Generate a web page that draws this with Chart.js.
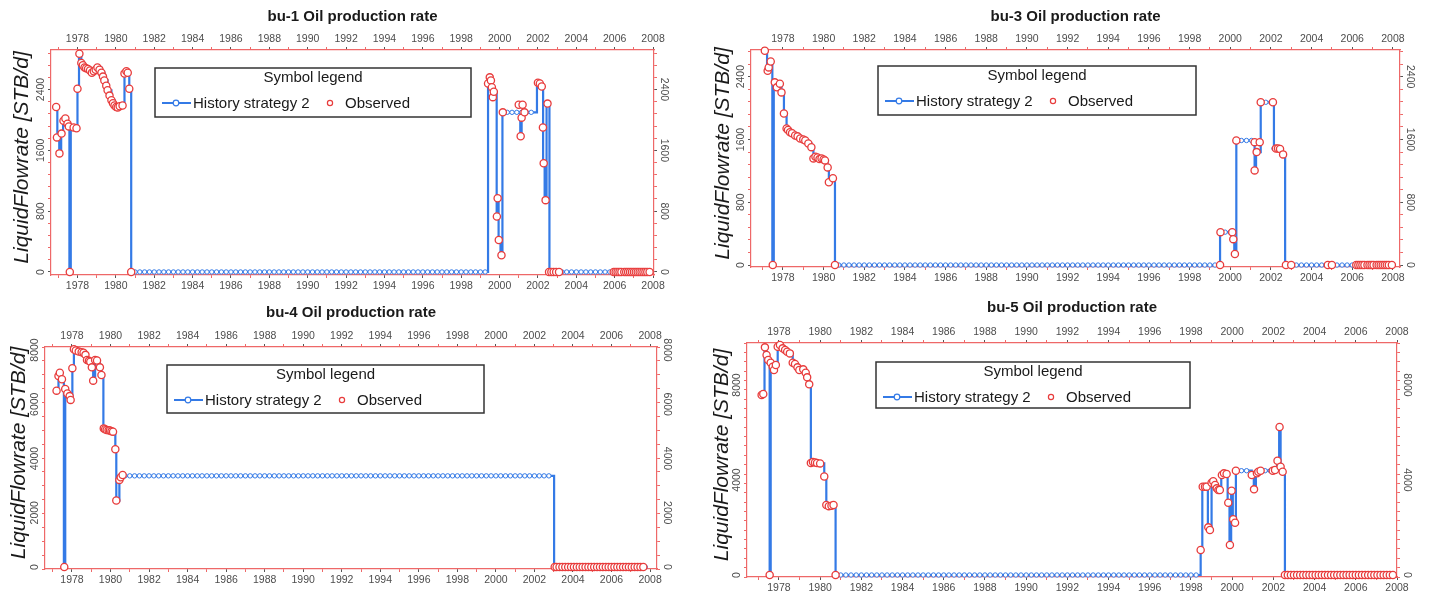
<!DOCTYPE html>
<html>
<head>
<meta charset="utf-8">
<title>Oil production rate</title>
<script src="https://cdn.jsdelivr.net/npm/chart.js@4.4.1/dist/chart.umd.min.js"></script>
<style>
  html, body { margin: 0; padding: 0; background: #fff; }
  body { width: 1432px; height: 600px; position: relative; overflow: hidden; }
  canvas { position: absolute; }
</style>
</head>
<body>
<canvas id="bu1" width="700" height="297" style="left:0;top:0"></canvas>
<canvas id="bu3" width="732" height="297" style="left:700px;top:0"></canvas>
<canvas id="bu4" width="700" height="303" style="left:0;top:297px"></canvas>
<canvas id="bu5" width="732" height="303" style="left:700px;top:297px"></canvas>
<script>
// year labels on the time axes, rate labels on the value axes
const yearLabels = [1978, 1980, 1982, 1984, 1986, 1988, 1990, 1992, 1994, 1996, 1998, 2000, 2002, 2004, 2006, 2008];
const bu1RateTicks = [0, 800, 1600, 2400];
const bu3RateTicks = [0, 800, 1600, 2400];
const bu4RateTicks = [0, 2000, 4000, 6000, 8000];
const bu5RateTicks = [0, 4000, 8000];

// [decimal year, STB/d]
const bu1History = [
  [1976.88, 2170], [1976.95, 1770], [1977.05, 1560], [1977.15, 1820], [1977.25, 1990], [1977.38, 2020],
  [1977.5, 1950], [1977.58, 0], [1977.65, 1915], [1977.8, 1900], [1977.95, 1890], [1978.0, 2410],
  [1978.08, 2870], [1978.2, 2750], [1978.35, 2690], [1978.5, 2675], [1978.7, 2620], [1978.9, 2650],
  [1979.05, 2690], [1979.25, 2620], [1979.4, 2520], [1979.57, 2390], [1979.77, 2260], [1979.93, 2190],
  [1980.1, 2165], [1980.35, 2190], [1980.45, 2610], [1980.6, 2625], [1980.7, 2410], [1980.8, 0],
  [1981, 0], [1981.25, 0], [1981.5, 0], [1981.75, 0], [1982, 0], [1982.25, 0], [1982.5, 0], [1982.75, 0],
  [1983, 0], [1983.25, 0], [1983.5, 0], [1983.75, 0], [1984, 0], [1984.25, 0], [1984.5, 0], [1984.75, 0],
  [1985, 0], [1985.25, 0], [1985.5, 0], [1985.75, 0], [1986, 0], [1986.25, 0], [1986.5, 0], [1986.75, 0],
  [1987, 0], [1987.25, 0], [1987.5, 0], [1987.75, 0], [1988, 0], [1988.25, 0], [1988.5, 0], [1988.75, 0],
  [1989, 0], [1989.25, 0], [1989.5, 0], [1989.75, 0], [1990, 0], [1990.25, 0], [1990.5, 0], [1990.75, 0],
  [1991, 0], [1991.25, 0], [1991.5, 0], [1991.75, 0], [1992, 0], [1992.25, 0], [1992.5, 0], [1992.75, 0],
  [1993, 0], [1993.25, 0], [1993.5, 0], [1993.75, 0], [1994, 0], [1994.25, 0], [1994.5, 0], [1994.75, 0],
  [1995, 0], [1995.25, 0], [1995.5, 0], [1995.75, 0], [1996, 0], [1996.25, 0], [1996.5, 0], [1996.75, 0],
  [1997, 0], [1997.25, 0], [1997.5, 0], [1997.75, 0], [1998, 0], [1998.25, 0], [1998.5, 0], [1998.75, 0],
  [1999, 0], [1999.25, 0],
  [1999.4, 2480], [1999.5, 2560], [1999.6, 2430], [1999.68, 2300], [1999.75, 2370], [1999.85, 730],
  [1999.9, 970], [1999.95, 420], [2000.05, 220], [2000.15, 2100], [2000.4, 2100], [2000.65, 2100],
  [2000.9, 2100], [2001.08, 1785], [2001.15, 2100], [2001.4, 2100], [2001.65, 2100], [2001.95, 2490],
  [2002.2, 2440], [2002.27, 1430], [2002.35, 945], [2002.45, 2215], [2002.6, 0],
  [2002.75, 0], [2003, 0], [2003.25, 0], [2003.5, 0], [2003.75, 0], [2004, 0], [2004.25, 0], [2004.5, 0],
  [2004.75, 0], [2005, 0], [2005.25, 0], [2005.5, 0], [2005.75, 0], [2006, 0], [2006.25, 0], [2006.5, 0],
  [2006.75, 0], [2007, 0], [2007.25, 0], [2007.5, 0], [2007.75, 0]
];
const bu1Observed = [
  [1976.89, 2170], [1976.93, 1770], [1977.06, 1560], [1977.17, 1820], [1977.27, 1990], [1977.37, 2020],
  [1977.48, 1950], [1977.55, 1915], [1977.6, 0], [1977.8, 1900], [1977.95, 1890], [1978.0, 2410],
  [1978.1, 2870], [1978.2, 2750], [1978.28, 2720], [1978.37, 2690], [1978.45, 2680], [1978.55, 2670],
  [1978.65, 2650], [1978.75, 2620], [1978.85, 2640], [1978.95, 2660], [1979.04, 2690], [1979.15, 2660],
  [1979.25, 2620], [1979.33, 2570], [1979.4, 2520], [1979.5, 2450], [1979.57, 2390], [1979.67, 2320],
  [1979.77, 2260], [1979.85, 2220], [1979.93, 2190], [1980.02, 2170], [1980.1, 2165], [1980.2, 2180],
  [1980.35, 2190], [1980.45, 2610], [1980.55, 2640], [1980.62, 2620], [1980.7, 2410], [1980.8, 0],
  [1999.4, 2480], [1999.49, 2560], [1999.55, 2520], [1999.6, 2430], [1999.65, 2300], [1999.7, 2370],
  [1999.86, 730], [1999.9, 970], [1999.96, 420], [2000.1, 220], [2000.17, 2100], [2001.0, 2200],
  [2001.1, 1785], [2001.15, 2030], [2001.2, 2200], [2001.3, 2100], [2002.0, 2490], [2002.1, 2480],
  [2002.2, 2440], [2002.26, 1900], [2002.3, 1430], [2002.4, 945], [2002.5, 2215], [2002.58, 0],
  [2002.7, 0], [2002.82, 0], [2002.95, 0], [2003.1, 0], [2005.95, 0], [2006.05, 0], [2006.15, 0],
  [2006.25, 0], [2006.35, 0], [2006.5, 0], [2006.6, 0], [2006.7, 0], [2006.8, 0], [2006.9, 0],
  [2007.0, 0], [2007.1, 0], [2007.2, 0], [2007.3, 0], [2007.4, 0], [2007.5, 0], [2007.6, 0],
  [2007.7, 0], [2007.82, 0]
];

const bu3History = [
  [1977.1, 2730], [1977.22, 2476], [1977.3, 2518], [1977.38, 2594], [1977.48, 0], [1977.55, 2328],
  [1977.7, 2264], [1977.85, 2311], [1977.93, 2200], [1978.05, 1930], [1978.18, 1740], [1978.35, 1693],
  [1978.6, 1651], [1978.85, 1612], [1979.1, 1587], [1979.25, 1549], [1979.4, 1502], [1979.5, 1360],
  [1979.7, 1371], [1979.9, 1359], [1980.07, 1333], [1980.2, 1244], [1980.26, 1054], [1980.4, 1105],
  [1980.56, 0],
  [1980.75, 0],
  [1981, 0], [1981.25, 0], [1981.5, 0], [1981.75, 0], [1982, 0], [1982.25, 0], [1982.5, 0], [1982.75, 0],
  [1983, 0], [1983.25, 0], [1983.5, 0], [1983.75, 0], [1984, 0], [1984.25, 0], [1984.5, 0], [1984.75, 0],
  [1985, 0], [1985.25, 0], [1985.5, 0], [1985.75, 0], [1986, 0], [1986.25, 0], [1986.5, 0], [1986.75, 0],
  [1987, 0], [1987.25, 0], [1987.5, 0], [1987.75, 0], [1988, 0], [1988.25, 0], [1988.5, 0], [1988.75, 0],
  [1989, 0], [1989.25, 0], [1989.5, 0], [1989.75, 0], [1990, 0], [1990.25, 0], [1990.5, 0], [1990.75, 0],
  [1991, 0], [1991.25, 0], [1991.5, 0], [1991.75, 0], [1992, 0], [1992.25, 0], [1992.5, 0], [1992.75, 0],
  [1993, 0], [1993.25, 0], [1993.5, 0], [1993.75, 0], [1994, 0], [1994.25, 0], [1994.5, 0], [1994.75, 0],
  [1995, 0], [1995.25, 0], [1995.5, 0], [1995.75, 0], [1996, 0], [1996.25, 0], [1996.5, 0], [1996.75, 0],
  [1997, 0], [1997.25, 0], [1997.5, 0], [1997.75, 0], [1998, 0], [1998.25, 0], [1998.5, 0], [1998.75, 0],
  [1999, 0], [1999.25, 0],
  [1999.5, 419], [1999.75, 419], [2000.0, 419], [2000.12, 330], [2000.2, 140], [2000.3, 1587],
  [2000.55, 1587], [2000.8, 1587], [2001.05, 1587], [2001.2, 1206], [2001.27, 1439], [2001.5, 2074],
  [2001.75, 2074], [2002.0, 2074], [2002.15, 1485], [2002.4, 1485], [2002.58, 1410], [2002.7, 0],
  [2003, 0], [2003.25, 0], [2003.5, 0], [2003.75, 0], [2004, 0], [2004.25, 0], [2004.5, 0], [2004.75, 0],
  [2005, 0], [2005.25, 0], [2005.5, 0], [2005.75, 0], [2006, 0], [2006.25, 0], [2006.5, 0], [2006.75, 0],
  [2007, 0], [2007.25, 0], [2007.5, 0], [2007.75, 0]
];
const bu3Observed = [
  [1977.11, 2730], [1977.25, 2476], [1977.3, 2518], [1977.4, 2594], [1977.5, 0], [1977.6, 2328],
  [1977.7, 2264], [1977.85, 2311], [1977.93, 2200], [1978.05, 1930], [1978.18, 1740], [1978.25, 1720],
  [1978.35, 1693], [1978.45, 1680], [1978.6, 1651], [1978.72, 1640], [1978.85, 1612], [1979.0, 1600],
  [1979.1, 1587], [1979.25, 1549], [1979.4, 1502], [1979.5, 1359], [1979.6, 1380], [1979.7, 1371],
  [1979.8, 1350], [1979.9, 1359], [1980.0, 1345], [1980.07, 1333], [1980.2, 1244], [1980.26, 1054],
  [1980.46, 1105], [1980.56, 0],
  [1999.5, 0], [1999.52, 419], [2000.1, 419], [2000.15, 330], [2000.23, 140], [2000.3, 1587],
  [2001.2, 1566], [2001.2, 1206], [2001.3, 1439], [2001.45, 1566], [2001.5, 2074], [2002.1, 2074],
  [2002.25, 1485], [2002.35, 1485], [2002.45, 1480], [2002.6, 1410], [2002.74, 0], [2003.0, 0],
  [2004.8, 0], [2005.0, 0], [2006.2, 0], [2006.3, 0], [2006.4, 0], [2006.5, 0], [2006.6, 0],
  [2006.75, 0], [2006.85, 0], [2006.95, 0], [2007.05, 0], [2007.2, 0], [2007.3, 0], [2007.4, 0],
  [2007.5, 0], [2007.6, 0], [2007.7, 0], [2007.8, 0], [2007.95, 0]
];

const bu4History = [
  [1977.2, 6500], [1977.3, 7040], [1977.37, 7163], [1977.48, 6920], [1977.58, 0], [1977.65, 6560],
  [1977.76, 6400], [1977.88, 6300], [1977.93, 6157], [1978.02, 7325], [1978.1, 8025], [1978.35, 7937],
  [1978.6, 7900], [1978.7, 7815], [1978.78, 7630], [1978.95, 7570], [1979.03, 7360], [1979.1, 6870],
  [1979.2, 7630], [1979.3, 7605], [1979.45, 7360], [1979.53, 7080], [1979.63, 5113], [1979.8, 5050],
  [1979.97, 5025], [1980.13, 4990], [1980.25, 4340], [1980.3, 2445], [1980.46, 3207], [1980.53, 3307],
  [1980.63, 3392],
  [1980.75, 3360],
  [1981, 3360], [1981.25, 3360], [1981.5, 3360], [1981.75, 3360], [1982, 3360], [1982.25, 3360], [1982.5, 3360], [1982.75, 3360],
  [1983, 3360], [1983.25, 3360], [1983.5, 3360], [1983.75, 3360], [1984, 3360], [1984.25, 3360], [1984.5, 3360], [1984.75, 3360],
  [1985, 3360], [1985.25, 3360], [1985.5, 3360], [1985.75, 3360], [1986, 3360], [1986.25, 3360], [1986.5, 3360], [1986.75, 3360],
  [1987, 3360], [1987.25, 3360], [1987.5, 3360], [1987.75, 3360], [1988, 3360], [1988.25, 3360], [1988.5, 3360], [1988.75, 3360],
  [1989, 3360], [1989.25, 3360], [1989.5, 3360], [1989.75, 3360], [1990, 3360], [1990.25, 3360], [1990.5, 3360], [1990.75, 3360],
  [1991, 3360], [1991.25, 3360], [1991.5, 3360], [1991.75, 3360], [1992, 3360], [1992.25, 3360], [1992.5, 3360], [1992.75, 3360],
  [1993, 3360], [1993.25, 3360], [1993.5, 3360], [1993.75, 3360], [1994, 3360], [1994.25, 3360], [1994.5, 3360], [1994.75, 3360],
  [1995, 3360], [1995.25, 3360], [1995.5, 3360], [1995.75, 3360], [1996, 3360], [1996.25, 3360], [1996.5, 3360], [1996.75, 3360],
  [1997, 3360], [1997.25, 3360], [1997.5, 3360], [1997.75, 3360], [1998, 3360], [1998.25, 3360], [1998.5, 3360], [1998.75, 3360],
  [1999, 3360], [1999.25, 3360], [1999.5, 3360], [1999.75, 3360], [2000, 3360], [2000.25, 3360], [2000.5, 3360], [2000.75, 3360],
  [2001, 3360], [2001.25, 3360], [2001.5, 3360], [2001.75, 3360], [2002, 3360], [2002.25, 3360], [2002.5, 3360], [2002.75, 3360],
  [2003.02, 0],
  [2003.25, 0], [2003.5, 0], [2003.75, 0], [2004, 0], [2004.25, 0], [2004.5, 0], [2004.75, 0], [2005, 0],
  [2005.25, 0], [2005.5, 0], [2005.75, 0], [2006, 0], [2006.25, 0], [2006.5, 0], [2006.75, 0], [2007, 0],
  [2007.25, 0], [2007.5, 0], [2007.75, 0]
];
const bu4Observed = [
  [1977.2, 6500], [1977.3, 7040], [1977.37, 7160], [1977.48, 6920], [1977.6, 0], [1977.65, 6560],
  [1977.76, 6400], [1977.88, 6300], [1977.93, 6160], [1978.02, 7330], [1978.1, 8030], [1978.2, 7980],
  [1978.35, 7940], [1978.5, 7920], [1978.6, 7900], [1978.7, 7820], [1978.78, 7630], [1978.88, 7600],
  [1978.95, 7570], [1979.03, 7360], [1979.1, 6870], [1979.2, 7630], [1979.3, 7610], [1979.45, 7360],
  [1979.53, 7080], [1979.65, 5110], [1979.72, 5080], [1979.8, 5050], [1979.9, 5040], [1979.97, 5030],
  [1980.05, 5000], [1980.13, 4990], [1980.25, 4340], [1980.3, 2450], [1980.46, 3210], [1980.53, 3310],
  [1980.63, 3390],
  [2003.05, 0], [2003.15, 0], [2003.3, 0], [2003.45, 0], [2003.6, 0], [2003.75, 0], [2003.9, 0],
  [2004.05, 0], [2004.2, 0], [2004.35, 0], [2004.5, 0], [2004.65, 0], [2004.8, 0], [2004.95, 0],
  [2005.1, 0], [2005.25, 0], [2005.4, 0], [2005.55, 0], [2005.7, 0], [2005.85, 0], [2006.0, 0],
  [2006.15, 0], [2006.3, 0], [2006.45, 0], [2006.6, 0], [2006.75, 0], [2006.9, 0], [2007.05, 0],
  [2007.2, 0], [2007.35, 0], [2007.5, 0], [2007.65, 0]
];

const bu5History = [
  [1977.15, 7580], [1977.3, 9587], [1977.4, 9263], [1977.48, 9052], [1977.55, 0], [1977.6, 8940],
  [1977.7, 8770], [1977.78, 8630], [1977.85, 8842], [1977.94, 9612], [1978.05, 9684], [1978.18, 9544],
  [1978.3, 9474], [1978.4, 9403], [1978.53, 9333], [1978.67, 8940], [1978.78, 8884], [1978.9, 8745],
  [1979.0, 8631], [1979.18, 8660], [1979.3, 8520], [1979.37, 8323], [1979.47, 8028], [1979.55, 4720],
  [1979.75, 4740], [1980.0, 4700], [1980.2, 4150], [1980.3, 2950], [1980.5, 2900], [1980.65, 2950],
  [1980.75, 0],
  [1981, 0], [1981.25, 0], [1981.5, 0], [1981.75, 0], [1982, 0], [1982.25, 0], [1982.5, 0], [1982.75, 0],
  [1983, 0], [1983.25, 0], [1983.5, 0], [1983.75, 0], [1984, 0], [1984.25, 0], [1984.5, 0], [1984.75, 0],
  [1985, 0], [1985.25, 0], [1985.5, 0], [1985.75, 0], [1986, 0], [1986.25, 0], [1986.5, 0], [1986.75, 0],
  [1987, 0], [1987.25, 0], [1987.5, 0], [1987.75, 0], [1988, 0], [1988.25, 0], [1988.5, 0], [1988.75, 0],
  [1989, 0], [1989.25, 0], [1989.5, 0], [1989.75, 0], [1990, 0], [1990.25, 0], [1990.5, 0], [1990.75, 0],
  [1991, 0], [1991.25, 0], [1991.5, 0], [1991.75, 0], [1992, 0], [1992.25, 0], [1992.5, 0], [1992.75, 0],
  [1993, 0], [1993.25, 0], [1993.5, 0], [1993.75, 0], [1994, 0], [1994.25, 0], [1994.5, 0], [1994.75, 0],
  [1995, 0], [1995.25, 0], [1995.5, 0], [1995.75, 0], [1996, 0], [1996.25, 0], [1996.5, 0], [1996.75, 0],
  [1997, 0], [1997.25, 0], [1997.5, 0], [1997.75, 0], [1998, 0], [1998.25, 0],
  [1998.47, 1053], [1998.55, 3720], [1998.82, 2007], [1998.92, 1895], [1999.0, 3888], [1999.17, 3790],
  [1999.3, 3580], [1999.47, 4210], [1999.6, 4280], [1999.78, 3045], [1999.87, 1263], [1999.95, 3550],
  [2000.03, 2345], [2000.12, 2200], [2000.18, 4392], [2000.45, 4392], [2000.7, 4392], [2000.95, 4210],
  [2001.05, 3608], [2001.15, 4280], [2001.35, 4392], [2001.6, 4392], [2001.85, 4392], [2002.05, 4420],
  [2002.18, 4813], [2002.28, 6230], [2002.35, 4560], [2002.45, 4350], [2002.56, 0],
  [2002.75, 0], [2003, 0], [2003.25, 0], [2003.5, 0], [2003.75, 0], [2004, 0], [2004.25, 0], [2004.5, 0],
  [2004.75, 0], [2005, 0], [2005.25, 0], [2005.5, 0], [2005.75, 0], [2006, 0], [2006.25, 0], [2006.5, 0],
  [2006.75, 0], [2007, 0], [2007.25, 0], [2007.5, 0], [2007.75, 0]
];
const bu5Observed = [
  [1977.16, 7579], [1977.24, 7620], [1977.32, 9587], [1977.4, 9263], [1977.48, 9052], [1977.55, 0],
  [1977.6, 8940], [1977.7, 8770], [1977.76, 8630], [1977.85, 8842], [1977.94, 9612], [1978.05, 9684],
  [1978.18, 9544], [1978.3, 9474], [1978.4, 9403], [1978.53, 9333], [1978.67, 8940], [1978.78, 8884],
  [1978.9, 8745], [1978.99, 8631], [1979.18, 8660], [1979.3, 8520], [1979.37, 8323], [1979.47, 8028],
  [1979.55, 4720], [1979.65, 4760], [1979.75, 4740], [1979.85, 4720], [1980.0, 4700], [1980.2, 4150],
  [1980.3, 2950], [1980.42, 2900], [1980.55, 2920], [1980.65, 2950], [1980.75, 0],
  [1998.47, 1053], [1998.57, 3720], [1998.68, 3720], [1998.76, 3720], [1998.84, 2007], [1998.92, 1895],
  [1999.0, 3888], [1999.08, 3950], [1999.17, 3790], [1999.25, 3650], [1999.33, 3580], [1999.4, 3580],
  [1999.5, 4210], [1999.6, 4280], [1999.73, 4253], [1999.81, 3045], [1999.89, 1263], [1999.97, 3550],
  [2000.05, 2345], [2000.14, 2200], [2000.18, 4392], [2000.95, 4210], [2001.06, 3608], [2001.2, 4280],
  [2001.27, 4350], [2001.38, 4392], [2001.97, 4392], [2002.08, 4420], [2002.2, 4813], [2002.3, 6230],
  [2002.35, 4560], [2002.45, 4350], [2002.56, 0],
  [2002.7, 0], [2002.85, 0], [2003.0, 0], [2003.15, 0], [2003.3, 0], [2003.45, 0], [2003.6, 0],
  [2003.75, 0], [2003.9, 0], [2004.05, 0], [2004.2, 0], [2004.35, 0], [2004.5, 0], [2004.65, 0],
  [2004.8, 0], [2004.95, 0], [2005.1, 0], [2005.25, 0], [2005.4, 0], [2005.55, 0], [2005.7, 0],
  [2005.85, 0], [2006.0, 0], [2006.15, 0], [2006.3, 0], [2006.45, 0], [2006.6, 0], [2006.75, 0],
  [2006.9, 0], [2007.05, 0], [2007.2, 0], [2007.35, 0], [2007.5, 0], [2007.65, 0], [2007.8, 0]
];

const frameRed = 'rgb(238,104,104)';
const histBlue = 'rgb(52,122,230)';
const obsRed = 'rgb(232,60,60)';
const tickGray = '#555';
const font = '"Liberation Sans", Arial, Helvetica, sans-serif';

// one entry per well: axis ranges plus where the plot box sits inside its canvas
const panels = [
  { id: 'bu1', title: 'bu-1 Oil production rate', history: bu1History, observed: bu1Observed, rateTicks: bu1RateTicks,
    xMin: 1976.62, xMax: 2008.05, yMin: -40, yMax: 2920, minorStep: 160,
    box: { left: 51, right: 46, top: 50, bottom: 22 }, titleY: 17, axisTitleX: 22,
    legend: { x: 155, y: 68, w: 316, h: 49 } },
  { id: 'bu3', title: 'bu-3 Oil production rate', history: bu3History, observed: bu3Observed, rateTicks: bu3RateTicks,
    xMin: 1976.43, xMax: 2008.35, yMin: -25, yMax: 2740, minorStep: 160,
    box: { left: 51, right: 32, top: 50, bottom: 30 }, titleY: 17, axisTitleX: 23,
    legend: { x: 178, y: 66, w: 318, h: 49 } },
  { id: 'bu4', title: 'bu-4 Oil production rate', history: bu4History, observed: bu4Observed, rateTicks: bu4RateTicks,
    xMin: 1976.6, xMax: 2008.36, yMin: -74, yMax: 8110, minorStep: 500,
    box: { left: 45, right: 43, top: 50, bottom: 31 }, titleY: 16, axisTitleX: 19,
    legend: { x: 167, y: 68, w: 317, h: 48 } },
  { id: 'bu5', title: 'bu-5 Oil production rate', history: bu5History, observed: bu5Observed, rateTicks: bu5RateTicks,
    xMin: 1976.45, xMax: 2008.0, yMin: -84, yMax: 9770, minorStep: 400,
    box: { left: 47, right: 35, top: 46, bottom: 23 }, titleY: 11, axisTitleX: 22,
    legend: { x: 176, y: 65, w: 314, h: 46 } }
];

function rotatedText(ctx, text, x, y, angle) {
  ctx.save();
  ctx.translate(x, y);
  ctx.rotate(angle);
  ctx.fillText(text, 0, 0);
  ctx.restore();
}

function ring(ctx, x, y, r, color, lw) {
  ctx.beginPath();
  ctx.arc(x, y, r, 0, Math.PI * 2);
  ctx.fillStyle = '#fff';
  ctx.fill();
  ctx.strokeStyle = color;
  ctx.lineWidth = lw;
  ctx.stroke();
}

// title, rotated rate labels, axis title and the boxed symbol legend
const panelDecor = {
  id: 'panelDecor',
  afterDraw(chart, args, o) {
    const { ctx, chartArea: a } = chart;
    const yScale = chart.scales.y;
    ctx.save();
    ctx.textAlign = 'center';
    ctx.textBaseline = 'middle';

    ctx.fillStyle = '#1a1a1a';
    ctx.font = `bold 15px ${font}`;
    ctx.fillText(o.title, (a.left + a.right) / 2, o.titleY);

    ctx.fillStyle = '#4d4d4d';
    ctx.font = `10.5px ${font}`;
    o.rateTicks.forEach(v => {
      const py = yScale.getPixelForValue(v);
      rotatedText(ctx, String(v), a.left - 10, py, -Math.PI / 2);
      rotatedText(ctx, String(v), a.right + 10, py, Math.PI / 2);
    });

    ctx.fillStyle = '#1a1a1a';
    ctx.font = `italic 21px ${font}`;
    rotatedText(ctx, 'LiquidFlowrate [STB/d]', o.axisTitleX, (a.top + a.bottom) / 2 - 5, -Math.PI / 2);

    const lg = o.legend;
    ctx.fillStyle = '#fff';
    ctx.fillRect(lg.x, lg.y, lg.w, lg.h);
    ctx.strokeStyle = '#333';
    ctx.lineWidth = 1.5;
    ctx.strokeRect(lg.x, lg.y, lg.w, lg.h);

    ctx.fillStyle = '#1a1a1a';
    ctx.font = `15px ${font}`;
    ctx.fillText('Symbol legend', lg.x + lg.w / 2, lg.y + 10);

    const rowY = lg.y + 35;
    const [hist, obs] = chart.data.datasets;
    ctx.strokeStyle = hist.borderColor;
    ctx.lineWidth = 2;
    ctx.beginPath();
    ctx.moveTo(lg.x + 7, rowY);
    ctx.lineTo(lg.x + 36, rowY);
    ctx.stroke();
    ring(ctx, lg.x + 21, rowY, 2.8, hist.pointBorderColor, 1.2);
    ring(ctx, lg.x + 175, rowY, 2.6, obs.pointBorderColor, 1.2);
    ctx.fillStyle = '#1a1a1a';
    ctx.textAlign = 'left';
    ctx.fillText(hist.label, lg.x + 38, rowY + 1);
    ctx.fillText(obs.label, lg.x + 190, rowY + 1);
    ctx.restore();
  }
};

function timeAxis(p, pos) {
  return {
    type: 'linear', axis: 'x', position: pos, min: p.xMin, max: p.xMax,
    afterFit: s => { s.height = pos === 'top' ? p.box.top : p.box.bottom; },
    border: { color: frameRed, width: 1.2 },
    grid: {
      drawOnChartArea: false, tickLength: 3, tickWidth: 1,
      tickColor: c => (c.tick && yearLabels.includes(Math.round(c.tick.value)) ? tickGray : frameRed)
    },
    ticks: {
      stepSize: 1, includeBounds: false, autoSkip: false, maxRotation: 0, minRotation: 0, padding: 2,
      color: '#4d4d4d', font: { family: font, size: 10.5 },
      callback: v => (yearLabels.includes(Math.round(v)) ? String(Math.round(v)) : '')
    }
  };
}

function rateAxis(p, pos) {
  return {
    type: 'linear', axis: 'y', position: pos, min: p.yMin, max: p.yMax,
    afterFit: s => { s.width = pos === 'left' ? p.box.left : p.box.right; },
    border: { color: frameRed, width: 1.2 },
    grid: {
      drawOnChartArea: false, tickLength: 3, tickWidth: 1,
      tickColor: c => (c.tick && p.rateTicks.includes(c.tick.value) ? tickGray : frameRed)
    },
    ticks: { display: false, stepSize: p.minorStep, includeBounds: false }
  };
}

panels.forEach(p => {
  new Chart(document.getElementById(p.id), {
    type: 'line',
    data: {
      datasets: [
        {
          label: 'History strategy 2',
          data: p.history.map(([x, y]) => ({ x, y })),
          stepped: true,
          borderColor: histBlue,
          borderWidth: 2.2,
          pointRadius: 2.2,
          pointBackgroundColor: '#fff',
          pointBorderColor: histBlue,
          pointBorderWidth: 1,
          clip: false,
          order: 2
        },
        {
          label: 'Observed',
          data: p.observed.map(([x, y]) => ({ x, y })),
          showLine: false,
          pointRadius: 3.6,
          pointBackgroundColor: '#fff',
          pointBorderColor: obsRed,
          pointBorderWidth: 1.3,
          clip: false,
          order: 1
        }
      ]
    },
    options: {
      responsive: false,
      animation: false,
      events: [],
      layout: { padding: 0 },
      plugins: {
        legend: { display: false },
        tooltip: { enabled: false },
        panelDecor: p
      },
      scales: {
        x: timeAxis(p, 'bottom'),
        xTop: timeAxis(p, 'top'),
        y: rateAxis(p, 'left'),
        yRight: rateAxis(p, 'right')
      }
    },
    plugins: [panelDecor]
  });
});
</script>
</body>
</html>
